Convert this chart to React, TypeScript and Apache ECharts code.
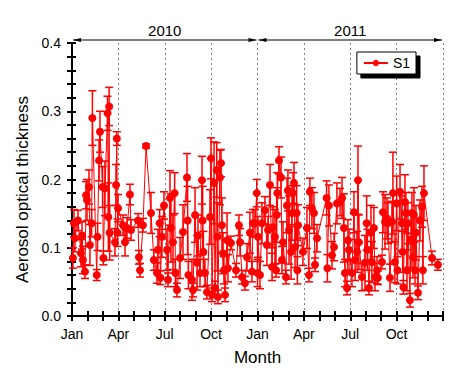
import React, { useEffect, useRef } from "react";
import * as echarts from "echarts";

// x position in months since Jan 2010 (0 = Jan 1 2010, 24 = Jan 1 2012)
const monthPos = [
  0.06, 0.13, 0.19, 0.39, 0.58, 0.65, 0.71, 0.84, 0.91, 0.97,
  1.10, 1.16, 1.27, 1.32, 1.60, 1.65, 1.75, 1.81, 1.98, 2.03,
  2.13, 2.30, 2.35, 2.40, 2.44, 2.78, 2.85, 2.90, 2.94, 2.98,
  3.30, 3.43, 3.56, 3.75, 3.82, 4.27, 4.33, 4.40, 4.59, 4.79,
  5.11, 5.30, 5.50, 5.56, 5.67, 5.72, 5.82, 5.95, 6.15, 6.21,
  6.34, 6.40, 6.53, 6.64, 6.69, 6.79, 6.99, 7.18, 7.44, 7.48,
  7.53, 7.76, 7.83, 7.96, 8.09, 8.15, 8.28, 8.41, 8.45, 8.50,
  8.60, 8.73, 8.93, 8.99, 9.06, 9.19, 9.25, 9.36, 9.40, 9.44,
  9.57, 9.64, 9.70, 9.77, 9.83, 9.90, 10.03, 10.09, 10.28, 10.61,
  10.80, 10.87, 11.00, 11.19, 11.32, 11.51, 11.64, 11.71, 11.84, 11.95,
  12.00, 12.03, 12.16, 12.29, 12.48, 12.61, 12.68, 12.81, 12.94, 13.00,
  13.13, 13.20, 13.24, 13.28, 13.39, 13.52, 13.58, 13.65, 13.84, 13.91,
  13.97, 14.04, 14.17, 14.23, 14.30, 14.36, 14.43, 14.53, 14.58, 14.62,
  14.94, 15.20, 15.33, 15.39, 15.52, 15.65, 15.72, 15.85, 16.47, 16.52,
  16.62, 16.82, 16.95, 17.14, 17.34, 17.47, 17.59, 17.66, 17.79, 17.85,
  17.92, 18.11, 18.24, 18.31, 18.44, 18.50, 18.56, 18.76, 18.95, 19.06,
  19.11, 19.21, 19.34, 19.40, 19.53, 19.60, 19.73, 19.79, 20.05, 20.12,
  20.25, 20.38, 20.44, 20.57, 20.70, 20.76, 20.89, 21.00, 21.05, 21.22,
  21.35, 21.39, 21.44, 21.54, 21.60, 21.67, 21.73, 21.86, 21.93, 21.99,
  22.06, 22.12, 22.19, 22.25, 22.38, 22.51, 22.64, 22.70, 22.77, 23.29,
  23.67,
];

const aot = [
  0.085, 0.136, 0.114, 0.14, 0.092, 0.118, 0.082, 0.065, 0.177, 0.17,
  0.189, 0.104, 0.136, 0.29, 0.06, 0.116, 0.228, 0.27, 0.189, 0.085,
  0.187, 0.297, 0.145, 0.307, 0.122, 0.108, 0.192, 0.26, 0.122, 0.158,
  0.133, 0.108, 0.129, 0.178, 0.126, 0.14, 0.086, 0.067, 0.133, 0.249,
  0.151, 0.082, 0.063, 0.097, 0.136, 0.056, 0.116, 0.162, 0.097, 0.053,
  0.173, 0.129, 0.108, 0.18, 0.063, 0.038, 0.085, 0.123, 0.203, 0.14,
  0.06, 0.053, 0.038, 0.148, 0.078, 0.118, 0.063, 0.199, 0.14, 0.094,
  0.063, 0.035, 0.145, 0.231, 0.031, 0.195, 0.041, 0.214, 0.116, 0.028,
  0.203, 0.224, 0.133, 0.092, 0.067, 0.031, 0.111, 0.07, 0.107, 0.067,
  0.133, 0.108, 0.057, 0.048, 0.086, 0.122, 0.065, 0.136, 0.136, 0.18,
  0.063, 0.116, 0.06, 0.136, 0.155, 0.104, 0.126, 0.192, 0.072, 0.13,
  0.116, 0.067, 0.148, 0.18, 0.228, 0.203, 0.082, 0.108, 0.057, 0.162,
  0.184, 0.126, 0.094, 0.151, 0.18, 0.195, 0.101, 0.151, 0.067, 0.133,
  0.094, 0.129, 0.06, 0.182, 0.158, 0.151, 0.075, 0.114, 0.173, 0.07,
  0.162, 0.089, 0.101, 0.165, 0.167, 0.173, 0.129, 0.063, 0.041, 0.111,
  0.097, 0.063, 0.152, 0.082, 0.094, 0.199, 0.108, 0.057, 0.078, 0.136,
  0.097, 0.041, 0.122, 0.079, 0.129, 0.057, 0.067, 0.056, 0.079, 0.152,
  0.138, 0.143, 0.136, 0.056, 0.138, 0.18, 0.079, 0.165, 0.067, 0.182,
  0.136, 0.094, 0.042, 0.167, 0.151, 0.067, 0.136, 0.023, 0.111, 0.151,
  0.086, 0.148, 0.067, 0.122, 0.034, 0.14, 0.16, 0.067, 0.18, 0.085,
  0.075,
];

const aotErr = [
  0.015, 0.02, 0.02, 0.015, 0.02, 0.02, 0.02, 0.01, 0.02, 0.03,
  0.025, 0.03, 0.02, 0.04, 0.008, 0.02, 0.03, 0.03, 0.03, 0.01,
  0.04, 0.025, 0.05, 0.028, 0.04, 0.02, 0.03, 0.01, 0.02, 0.02,
  0.015, 0.02, 0.015, 0.015, 0.015, 0.01, 0.01, 0.01, 0.01, 0.003,
  0.03, 0.015, 0.015, 0.03, 0.02, 0.01, 0.03, 0.02, 0.03, 0.01,
  0.04, 0.05, 0.04, 0.03, 0.02, 0.01, 0.03, 0.04, 0.035, 0.05,
  0.02, 0.03, 0.01, 0.04, 0.04, 0.03, 0.02, 0.035, 0.05, 0.03,
  0.02, 0.01, 0.04, 0.03, 0.01, 0.06, 0.01, 0.04, 0.05, 0.01,
  0.04, 0.02, 0.04, 0.03, 0.02, 0.01, 0.04, 0.02, 0.01, 0.01,
  0.015, 0.02, 0.01, 0.01, 0.02, 0.03, 0.015, 0.02, 0.02, 0.02,
  0.02, 0.03, 0.02, 0.03, 0.02, 0.03, 0.02, 0.03, 0.02, 0.03,
  0.04, 0.01, 0.04, 0.03, 0.02, 0.03, 0.02, 0.03, 0.01, 0.04,
  0.03, 0.05, 0.04, 0.04, 0.03, 0.03, 0.03, 0.04, 0.02, 0.03,
  0.02, 0.03, 0.01, 0.02, 0.03, 0.03, 0.01, 0.02, 0.025, 0.02,
  0.03, 0.02, 0.02, 0.03, 0.02, 0.03, 0.05, 0.02, 0.01, 0.03,
  0.03, 0.02, 0.03, 0.03, 0.03, 0.05, 0.04, 0.02, 0.04, 0.04,
  0.03, 0.01, 0.04, 0.03, 0.03, 0.02, 0.02, 0.01, 0.01, 0.03,
  0.04, 0.03, 0.03, 0.02, 0.03, 0.06, 0.03, 0.04, 0.02, 0.04,
  0.04, 0.03, 0.01, 0.04, 0.03, 0.03, 0.03, 0.01, 0.04, 0.03,
  0.03, 0.04, 0.02, 0.04, 0.01, 0.03, 0.03, 0.02, 0.04, 0.01,
  0.008,
];

const quarterLabels = ["Jan", "Apr", "Jul", "Oct", "Jan", "Apr", "Jul", "Oct"];
const yearLabels = ["2010", "2011"];
const yearStartMonth = [0, 12];
const yearEndMonth = [12, 24];
const seriesName = "S1";

const FONT = "Liberation Sans";
const RED = "#ff0000";

export default function App() {
  const ref = useRef<HTMLDivElement>(null);

  useEffect(() => {
    if (!ref.current) return;
    const chart = echarts.init(ref.current, null, { renderer: "svg" });
    const points = monthPos.map((m, i) => [m, aot[i], aotErr[i]]);
    const years = yearLabels.map((_, i) => [yearStartMonth[i], yearEndMonth[i], i]);

    const frameLine = { show: true, lineStyle: { color: "#000", width: 2 } };

    chart.setOption({
      animation: false,
      textStyle: { fontFamily: FONT },
      grid: { left: 72, right: 33, top: 43, bottom: 66 },
      legend: {
        data: [seriesName],
        right: 60,
        top: 52,
        backgroundColor: "#fff",
        borderColor: "#000",
        borderWidth: 1,
        borderRadius: 0,
        padding: [4, 6, 4, 6],
        itemWidth: 24,
        itemHeight: 8,
        textStyle: { fontSize: 14, color: "#000", fontFamily: FONT },
        shadowColor: "#000",
        shadowBlur: 0,
        shadowOffsetX: 4,
        shadowOffsetY: 4,
      },
      xAxis: [
        {
          type: "value",
          position: "bottom",
          min: 0,
          max: 24,
          interval: 1,
          axisLine: frameLine,
          axisTick: { show: true, inside: true, length: 5, lineStyle: { color: "#000", width: 2 } },
          axisLabel: {
            color: "#000",
            fontSize: 14,
            margin: 11,
            formatter: (v: number) => {
              const r = Math.round(v);
              return r % 3 === 0 && r < 24 ? quarterLabels[r / 3] : "";
            },
          },
          splitLine: { show: false },
          name: "Month",
          nameLocation: "middle",
          nameGap: 33,
          nameTextStyle: { fontSize: 17, color: "#000", fontFamily: FONT },
        },
        {
          type: "value",
          position: "top",
          min: 0,
          max: 24,
          interval: 1,
          axisLine: frameLine,
          axisTick: { show: true, inside: true, length: 5, lineStyle: { color: "#000", width: 2 } },
          axisLabel: { show: false },
          splitLine: { show: false },
        },
        {
          type: "value",
          position: "bottom",
          min: 0,
          max: 24,
          interval: 3,
          axisLine: { show: false },
          axisTick: { show: false },
          axisLabel: { show: false },
          splitLine: { show: true, lineStyle: { color: "#808080", width: 1, type: [2, 3] } },
        },
      ],
      yAxis: [
        {
          type: "value",
          position: "left",
          min: 0,
          max: 0.4,
          interval: 0.1,
          axisLine: frameLine,
          axisTick: { show: true, inside: false, length: 5, lineStyle: { color: "#000", width: 2 } },
          axisLabel: { color: "#000", fontSize: 14, margin: 11, formatter: (v: number) => v.toFixed(1) },
          splitLine: { show: false },
          name: "Aerosol optical thickness",
          nameLocation: "middle",
          nameGap: 38,
          nameTextStyle: { fontSize: 17, color: "#000", fontFamily: FONT, padding: [0, 20, 0, 0] },
        },
        {
          type: "value",
          position: "left",
          min: 0,
          max: 0.4,
          interval: 0.02,
          axisLine: { show: false },
          axisTick: { show: true, inside: true, length: 4, lineStyle: { color: "#000", width: 2 } },
          axisLabel: { show: false },
          splitLine: { show: false },
        },
        {
          type: "value",
          position: "right",
          min: 0,
          max: 0.4,
          interval: 0.02,
          axisLine: frameLine,
          axisTick: { show: true, inside: true, length: 5, lineStyle: { color: "#000", width: 2 } },
          axisLabel: { show: false },
          splitLine: { show: false },
        },
      ],
      series: [
        {
          type: "custom",
          name: "err",
          xAxisIndex: 0,
          yAxisIndex: 0,
          silent: true,
          encode: { x: 0, y: 1 },
          data: points,
          renderItem: (_params: any, api: any) => {
            const x = api.value(0);
            const v = api.value(1);
            const e = api.value(2);
            const top = api.coord([x, v + e]);
            const bot = api.coord([x, v - e]);
            const hw = 4;
            const st = { stroke: RED, lineWidth: 1.5 };
            return {
              type: "group",
              children: [
                { type: "line", shape: { x1: top[0], y1: top[1], x2: bot[0], y2: bot[1] }, style: st },
                { type: "line", shape: { x1: top[0] - hw, y1: top[1], x2: top[0] + hw, y2: top[1] }, style: st },
                { type: "line", shape: { x1: bot[0] - hw, y1: bot[1], x2: bot[0] + hw, y2: bot[1] }, style: st },
              ],
            };
          },
        },
        {
          type: "line",
          name: seriesName,
          xAxisIndex: 0,
          yAxisIndex: 0,
          data: points.map((p) => [p[0], p[1]]),
          symbol: "circle",
          symbolSize: 8,
          showAllSymbol: true,
          itemStyle: { color: RED },
          lineStyle: { color: RED, width: 1 },
        },
        {
          type: "custom",
          name: "years",
          xAxisIndex: 0,
          yAxisIndex: 0,
          silent: true,
          clip: false,
          encode: { x: [0, 1] },
          data: years,
          renderItem: (_params: any, api: any) => {
            const x0 = api.coord([api.value(0), 0.4])[0];
            const x1 = api.coord([api.value(1), 0.4])[0];
            const yTop = api.coord([api.value(0), 0.4])[1];
            const y = yTop - 3;
            const label = yearLabels[api.value(2)];
            return {
              type: "group",
              children: [
                { type: "line", shape: { x1: x0 + 1, y1: y, x2: x1 - 1, y2: y }, style: { stroke: "#000", lineWidth: 1 } },
                { type: "polygon", shape: { points: [[x0 + 1, y], [x0 + 9, y - 2], [x0 + 9, y + 2]] }, style: { fill: "#000" } },
                { type: "polygon", shape: { points: [[x1 - 1, y], [x1 - 9, y - 2], [x1 - 9, y + 2]] }, style: { fill: "#000" } },
                {
                  type: "text",
                  style: {
                    text: label,
                    x: (x0 + x1) / 2,
                    y: y - 2,
                    align: "center",
                    verticalAlign: "bottom",
                    fontSize: 15,
                    fill: "#000",
                    fontFamily: FONT,
                  },
                },
              ],
            };
          },
        },
      ],
    });

    return () => chart.dispose();
  }, []);

  return (
    <div
      ref={ref}
      style={{ position: "fixed", left: 0, top: 0, width: 476, height: 382, background: "#fff" }}
    />
  );
}
